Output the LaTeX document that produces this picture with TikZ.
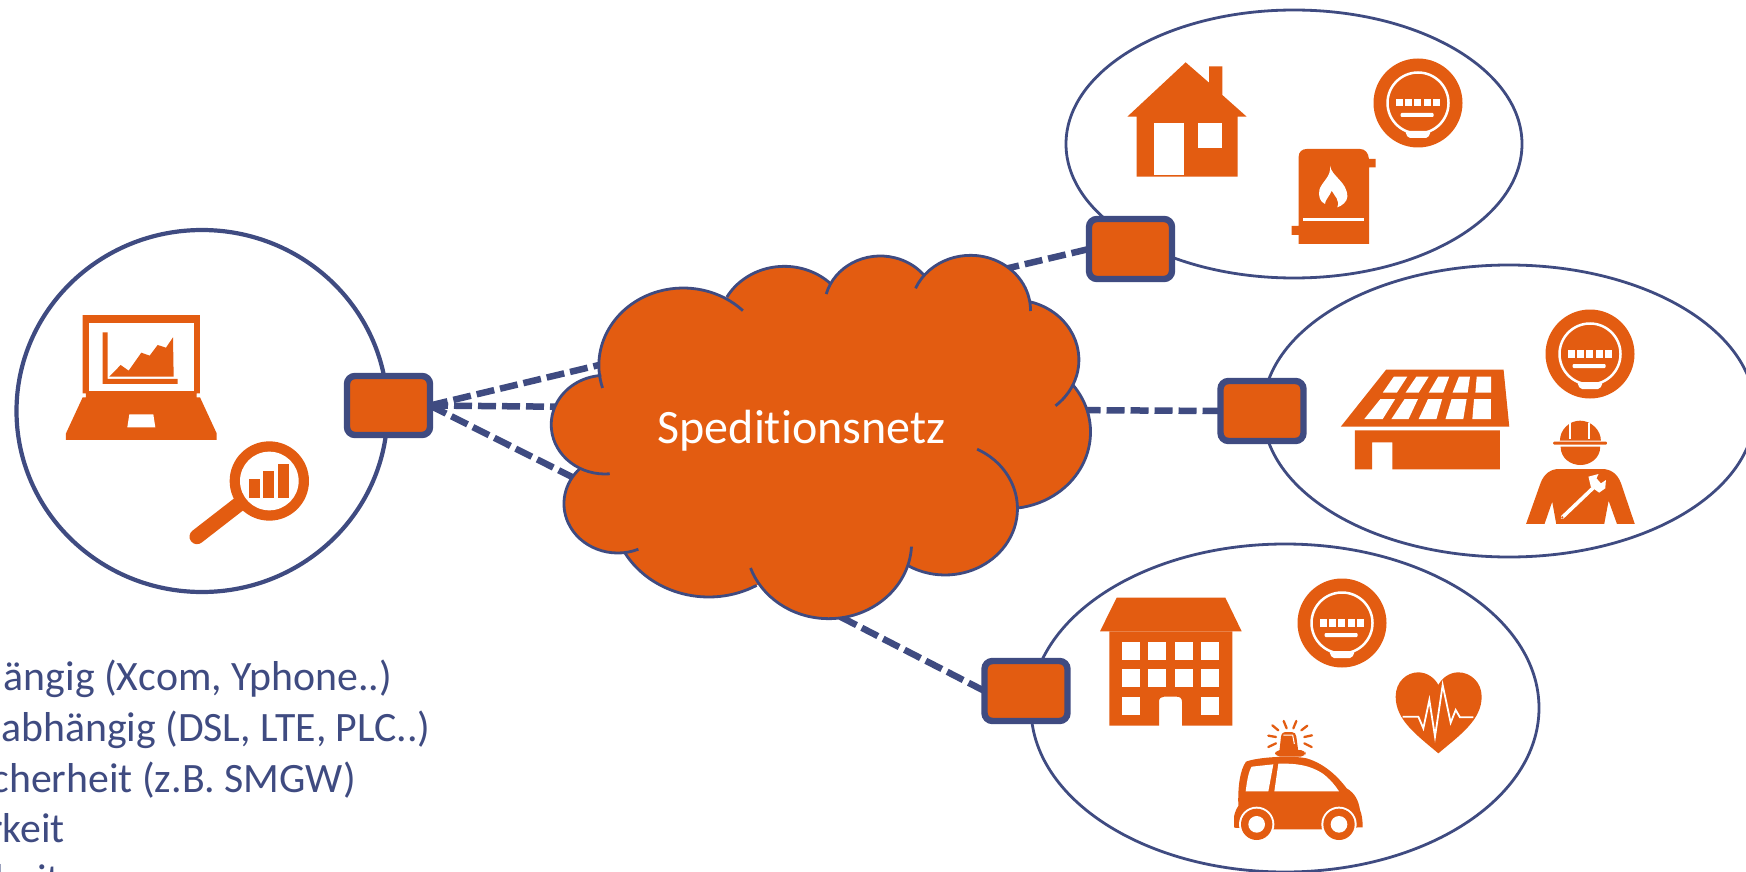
\documentclass[tikz,border=0pt]{standalone}
\usepackage{fontspec}
\setmainfont{Carlito}[Ligatures=NoCommon]
\usetikzlibrary{shapes.geometric}
\definecolor{myorange}{HTML}{E35C11}
\definecolor{mynavy}{HTML}{3F4B81}
\tikzset{
  site/.style={ellipse,draw=mynavy,fill=white,inner sep=0pt,outer sep=0pt,line width=2.8pt},
  gate/.style={rectangle,draw=mynavy,fill=myorange,line width=6.4pt,rounded corners=8pt,inner sep=0pt,outer sep=0pt},
  link/.style={draw=mynavy,line width=6.5pt,dash pattern=on 18pt off 6pt},
  ico/.style={fill=myorange},
  cut/.style={fill=white},
  listtext/.style={text=mynavy,font=\fontsize{41.8}{50}\selectfont,anchor=base east,inner sep=0pt},
  meter/.pic={
    \fill[myorange] (0,0) circle[radius=44.5];
    \draw[white,line width=2.5pt] (0,0) circle[radius=30.5];
    \fill[white,rounded corners=2pt] (-13,28) -- (13,28) -- (10,35) -- (-10,35) -- cycle;
    \foreach \q in {-22.3,-13,-3.6,5.7,15} {\fill[white] (\q,-4.3) rectangle ++(6.9,7.8);}
    \fill[white,rounded corners=1pt] (-17.3,10) rectangle (15.7,14);
  }
}
\begin{document}
\begin{tikzpicture}[x=1pt,y=-1pt]
\useasboundingbox (0,0) rectangle (1746,872);
\fill[white] (0,0) rectangle (1746,872);
% sites
\node[site,line width=4.2pt,minimum width=371pt,minimum height=362pt] (office) at (202,411) {};
\node[site,minimum width=456pt,minimum height=268pt] (home) at (1294,144) {};
\node[site,minimum width=492pt,minimum height=292pt] (solar) at (1509,411) {};
\node[site,minimum width=508pt,minimum height=328pt] (city) at (1285,708) {};
% boxes
\node[gate,minimum width=83pt,minimum height=59pt] (g0) at (388.5,405.5) {};
\node[gate,minimum width=83pt,minimum height=60pt] (g1) at (1130.5,249) {};
\node[gate,minimum width=83pt,minimum height=60pt] (g2) at (1262,411) {};
\node[gate,minimum width=83pt,minimum height=60pt] (g3) at (1026,691) {};
% cloud anchors for the links
\coordinate (ca) at (620,360);
\coordinate (cb) at (585,407);
\coordinate (cc) at (590,486);
\coordinate (cd) at (975,276);
\coordinate (ce) at (1060,410);
\coordinate (cf) at (800,596);
\path[link] (g0.east) -- (ca);
\path[link] (g0.east) -- (cb);
\path[link] (g0.east) -- (cc);
\path[link] (g1.west) -- (cd);
\path[link] (g2.west) -- (ce);
\path[link] (g3.west) -- (cf);
% cloud
\begin{scope}[shift={(530.5,242)},x=0.36364pt,y=-0.33333pt]
  \def\lobes{420/370/232/163/315,698/254.5/181.5/209.5/314.4,962/196/154/195/321,1210/205/165/203.6/360.7,1328/353.5/180/285/410,1310/570/230/322.4/442.5,1140/800/199/296.3/480.5,820/902/228/3/160.5,490/798/267/60.4/150.4,240/785/148/67.5/225,205/548/148/85/266}
  \fill[myorange] (420,370) -- (698,254) -- (962,196) -- (1210,205) -- (1328,353) -- (1310,570) -- (1140,800) -- (820,902) -- (490,798) -- (240,785) -- (205,548) -- cycle;
  \foreach \cx/\cy/\r/\a/\b in \lobes {\fill[myorange] (\cx,\cy) circle[radius=\r];}
  \foreach \cx/\cy/\r/\a/\b in \lobes {\draw[mynavy,line width=2.8pt] ({\cx+\r*cos(\a)},{\cy+\r*sin(\a)}) arc[start angle=\a,end angle=\b,radius=\r];}
\end{scope}
\node[text=white,font=\fontsize{48}{50}\selectfont,anchor=base,inner sep=0pt] (net) at (801.5,443) {Speditionsnetz};
% laptop + magnifier
\begin{scope}[shift={(0,220)},x=0.33333pt,y=-0.33333pt]
  \fill[ico] (248,285) -- (600,285) -- (600,520) -- (590,520) -- (590,532) -- (600,532) -- (650,640) -- (650,660) -- (198,660) -- (198,640) -- (248,532) -- (258,532) -- (258,520) -- (248,520) -- cycle;
  \fill[cut] (266,310) rectangle (582,513);
  \fill[cut] (388,583) -- (460,583) -- (466,622) -- (382,622) -- cycle;
  \fill[ico] (308,337) -- (323,337) -- (323,477) -- (533,477) -- (533,492) -- (308,492) -- cycle;
  \fill[ico] (328,470) -- (362,435) -- (386,452) -- (424,398) -- (449,407) -- (473,375) -- (498,383) -- (519,352) -- (521,470) -- cycle;
  \draw[myorange,line width=15pt,line cap=round] (720,850) -- (591,950);
  \fill[ico] (808,783) circle[radius=119];
  \fill[cut] (808,783) circle[radius=88];
  \fill[ico] (748,778) rectangle (781,835);
  \fill[ico] (789,753) rectangle (821,835);
  \fill[ico] (835,732) rectangle (867,835);
\end{scope}
% house + boiler
\begin{scope}[shift={(1060,0)},x=0.33333pt,y=-0.33333pt]
  \fill[ico] (377,187) -- (447,248) -- (447,199) -- (487,199) -- (487,285) -- (560,350) -- (533,350) -- (533,530) -- (230,530) -- (230,350) -- (202,350) -- cycle;
  \fill[cut] (283,368) rectangle (372,525);
  \fill[cut] (414,368) rectangle (485,444);
  \fill[ico] (716,732) -- (716,705) -- (695,705) -- (695,678) -- (716,678) -- (716,470) .. controls (716,455) and (727,447) .. (740,447) -- (900,447) .. controls (915,447) and (925,458) .. (927,477) -- (947,477) -- (947,502) -- (927,502) -- (927,732) -- cycle;
  \fill[cut] (728,655) rectangle (912,663);
  \fill[cut] (810,497) .. controls (815,530) and (862,545) .. (862,590) .. controls (862,605) and (845,618) .. (832,622) .. controls (840,600) and (825,590) .. (815,572) .. controls (808,590) and (795,600) .. (795,612) .. controls (780,605) and (775,590) .. (778,570) .. controls (785,545) and (815,530) .. (810,497) -- cycle;
\end{scope}
\pic (m1) at (1418,103) {meter};
% solar roof + worker
\begin{scope}[shift={(1220,270)},x=0.33557pt,y=-0.33333pt]
  \fill[ico] (495,299) -- (845,299) -- (862,470) -- (360,470) -- cycle;
  \foreach \pa/\pb/\pc/\pd in {518/558/527/485,585/622/592/553,650/683/665/622,712/745/738/693,765/808/808/761}
    {\fill[cut] (\pa,320) -- (\pb,320) -- (\pc,368) -- (\pd,368) -- cycle;}
  \foreach \pa/\pb/\pc/\pd in {478/522/485/430,550/590/562/511,620/662/645/592,690/735/725/672,757/807/807/752}
    {\fill[cut] (\pa,387) -- (\pb,387) -- (\pc,447) -- (\pd,447) -- cycle;}
  \fill[ico] (402,481) -- (834,481) -- (834,598) -- (514,598) -- (514,517) -- (453,517) -- (453,598) -- (402,598) -- cycle;
  \fill[ico] (1013,512) .. controls (1013,480) and (1040,452) .. (1073,452) .. controls (1106,452) and (1135,480) .. (1135,512) -- cycle;
  \fill[ico,rounded corners=1pt] (993,515) rectangle (1153,524);
  \draw[white,line width=2pt] (1044,460) -- (1044,507);
  \draw[white,line width=2pt] (1100,460) -- (1100,507);
  \fill[ico] (1015,530) .. controls (1015,565) and (1045,585) .. (1074,585) .. controls (1103,585) and (1133,565) .. (1133,530) -- cycle;
  \fill[ico] (912,762) -- (955,640) .. controls (965,612) and (985,597) .. (1010,597) -- (1138,597) .. controls (1165,597) and (1185,612) .. (1195,640) -- (1236,762) -- (1183,762) -- (1158,692) -- (1145,762) -- (1002,762) -- (990,695) -- (967,762) -- cycle;
  \draw[white,line width=3.6pt,line cap=round] (1020,742) -- (1118,648);
  \fill[cut] (1098,620) -- (1128,612) -- (1122,625) -- (1135,640) -- (1150,630) -- (1148,655) -- (1130,668) -- (1105,650) -- cycle;
  \fill[ico] (1020,742) circle[radius=3.5];
\end{scope}
\pic (m2) at (1590,354) {meter};
% apartment + heart
\begin{scope}[shift={(1020,570)},x=0.33333pt,y=-0.33333pt]
  \fill[ico] (290,83) -- (616,83) -- (665,184) -- (240,184) -- cycle;
  \fill[ico] (268,184) -- (637,184) -- (637,467) -- (486,467) -- (486,395) .. controls (486,385) and (480,380) .. (470,380) -- (432,380) .. controls (423,380) and (417,385) .. (417,395) -- (417,467) -- (268,467) -- cycle;
  \foreach \px/\py in {305/216,383/216,465/216,543/216,305/296,383/296,465/296,543/296,305/380,543/380}
    {\fill[cut] (\px,\py) rectangle ++(55,54);}
  \fill[ico] (1255,550) .. controls (1190,495) and (1127,450) .. (1127,380) .. controls (1127,335) and (1160,307) .. (1195,307) .. controls (1222,307) and (1245,325) .. (1255,345) .. controls (1265,325) and (1288,307) .. (1315,307) .. controls (1350,307) and (1385,335) .. (1385,380) .. controls (1385,450) and (1320,495) .. (1255,550) -- cycle;
  \draw[white,line width=1.8pt,line join=miter] (1148,440) -- (1195,440) -- (1210,475) -- (1228,390) -- (1245,500) -- (1268,345) -- (1292,458) -- (1307,420) -- (1320,442) -- (1360,442);
\end{scope}
\pic (m3) at (1342,623) {meter};
% car
\begin{scope}[shift={(1140,620)},x=0.33333pt,y=-0.33333pt]
  \fill[ico] (282,622) -- (282,590) .. controls (285,575) and (290,565) .. (295,558) .. controls (293,500) and (300,450) .. (318,425) .. controls (350,412) and (450,405) .. (500,415) .. controls (550,430) and (590,465) .. (620,505) .. controls (645,520) and (655,540) .. (660,570) .. controls (666,585) and (668,600) .. (668,622) -- (652,622) -- (640,628) -- (300,628) -- cycle;
  \fill[cut] (335,440) -- (400,433) -- (385,514) -- (317,514) .. controls (320,490) and (325,455) .. (335,440) -- cycle;
  \fill[cut] (415,431) .. controls (470,430) and (510,435) .. (550,462) .. controls (570,478) and (585,495) .. (597,514) -- (403,514) -- cycle;
  \foreach \wx in {350,597} {
    \fill[cut] (\wx,613) circle[radius=53];
    \fill[ico] (\wx,613) circle[radius=47];
    \fill[cut] (\wx,613) circle[radius=25];
  }
  \fill[cut] (282,623) rectangle (300,640);
  \fill[cut] (645,623) rectangle (670,640);
  \fill[ico] (418,395) -- (423,350) .. controls (424,340) and (430,336) .. (440,336) -- (455,336) .. controls (464,336) and (468,342) .. (469,350) -- (475,395) -- cycle;
  \fill[ico,rounded corners=5pt] (405,390) rectangle (497,410);
  \draw[white,line width=1pt] (430,345) -- (458,345) -- (463,372);
  \foreach \ra/\rb/\rc/\rd in {385/347/408/351,385/381/408/370,397/316/415/331,431/303/440/325,469/303/460/325,502/317/484/331,516/346/493/351,515/381/493/370}
    {\draw[myorange,line width=2.3pt,line cap=round] (\ra,\rb) -- (\rc,\rd);}
\end{scope}
% list text, cut by the picture's edge
\node[listtext] (l1) at (392.5,690) {ängig (Xcom, Yphone..)};
\node[listtext] (l2) at (431,741) {abhängig (DSL, LTE, PLC..)};
\node[listtext] (l3) at (356,792.5) {cherheit (z.B. SMGW)};
\node[listtext] (l4) at (65,842) {rkeit};
\node[listtext] (l5) at (61,893) {heit};
\end{tikzpicture}
\end{document}
